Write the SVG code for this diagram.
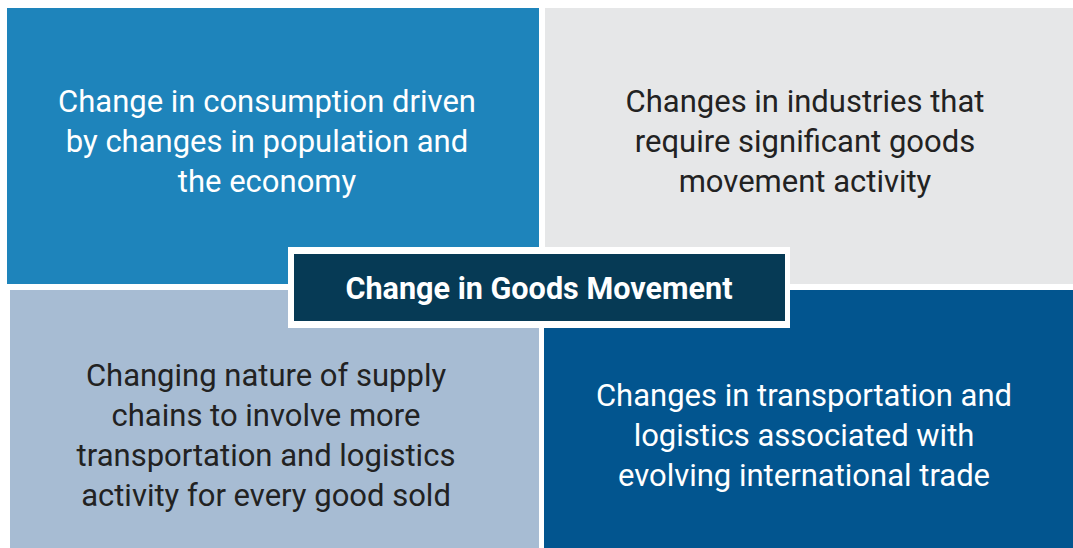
<svg xmlns="http://www.w3.org/2000/svg" width="1073" height="548" viewBox="0 0 1073 548">
<style>
.t{font-family:Roboto,"Liberation Sans",sans-serif;font-size:31px;text-anchor:middle}
.w{fill:#ffffff}
.d{fill:#222222}
.title{font-family:Roboto,"Liberation Sans",sans-serif;font-size:30.6px;font-weight:bold;fill:#ffffff;text-anchor:middle}
</style>
<rect width="1073" height="548" fill="#ffffff"/>
<g id="q-consumption">
<rect x="7" y="8" width="532" height="276" fill="#1e84bb"/>
<text class="t w" x="267" y="112">Change in consumption driven</text>
<text class="t w" x="267" y="152">by changes in population and</text>
<text class="t w" x="267" y="192">the economy</text>
</g>
<g id="q-industries">
<rect x="545" y="8" width="528" height="276" fill="#e6e7e8"/>
<text class="t d" x="805" y="112">Changes in industries that</text>
<text class="t d" x="805" y="152">require significant goods</text>
<text class="t d" x="805" y="192">movement activity</text>
</g>
<g id="q-supply">
<rect x="10" y="290" width="529" height="258" fill="#a7bcd3"/>
<text class="t d" x="266" y="386">Changing nature of supply</text>
<text class="t d" x="266" y="426">chains to involve more</text>
<text class="t d" x="266" y="466">transportation and logistics</text>
<text class="t d" x="266" y="506">activity for every good sold</text>
</g>
<g id="q-trade">
<rect x="544" y="290" width="529" height="258" fill="#02558f"/>
<text class="t w" x="804" y="406">Changes in transportation and</text>
<text class="t w" x="804" y="446">logistics associated with</text>
<text class="t w" x="804" y="486">evolving international trade</text>
</g>
<g id="center">
<rect x="288" y="247" width="502" height="81" fill="#ffffff"/>
<rect x="294" y="254" width="491" height="67" fill="#063a55"/>
<text class="title" x="539" y="299">Change in Goods Movement</text>
</g>
<g id="connectors"></g>
</svg>
